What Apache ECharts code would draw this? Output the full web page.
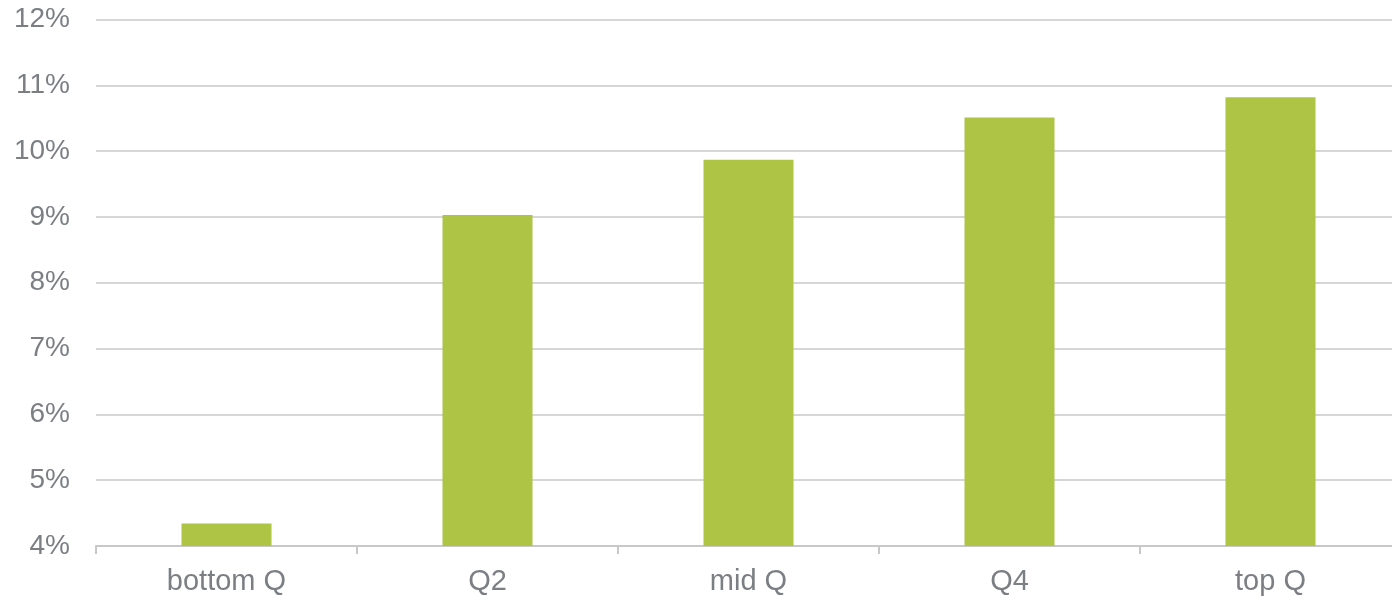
<!DOCTYPE html>
<html>
<head>
<meta charset="utf-8">
<script src="https://cdn.jsdelivr.net/npm/echarts@6/dist/echarts.min.js"></script>
<style>html,body{margin:0;padding:0;background:#fff;overflow:hidden;width:1392px;height:596px}#c{width:1401px;height:596px}</style>
</head>
<body>
<div id="c"></div>
<script>
const categories = ['bottom Q', 'Q2', 'mid Q', 'Q4', 'top Q'];
const values = [4.34, 9.03, 9.87, 10.51, 10.82];
const yMin = 4, yMax = 12, yStep = 1;

const chart = echarts.init(document.getElementById('c'), null, {renderer: 'canvas'});
chart.setOption({
  animation: false,
  backgroundColor: '#ffffff',
  grid: {left: 96, right: 0, top: 19.5, bottom: 49.3, containLabel: false},
  xAxis: {
    type: 'category',
    data: categories,
    boundaryGap: true,
    axisLine: {show: true, lineStyle: {color: '#c8c8c8', width: 2}},
    axisTick: {show: true, length: 8, lineStyle: {color: '#c8c8c8', width: 2}},
    axisLabel: {color: '#7b7f84', fontSize: 29, fontFamily: 'Liberation Sans, Arial, sans-serif', margin: 21}
  },
  yAxis: {
    type: 'value',
    min: yMin, max: yMax, interval: yStep,
    axisLine: {show: false},
    axisTick: {show: false},
    splitLine: {show: true, lineStyle: {color: '#d6d6d6', width: 2}},
    axisLabel: {color: '#7b7f84', fontSize: 28, fontFamily: 'Liberation Sans, Arial, sans-serif', margin: 26, formatter: v => v + '%'}
  },
  series: [{
    type: 'bar',
    data: values,
    barWidth: 90,
    itemStyle: {color: '#adc444'}
  }]
});
</script>
</body>
</html>
